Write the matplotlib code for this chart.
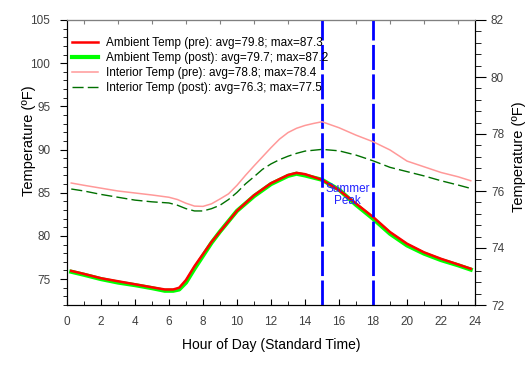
import matplotlib.pyplot as plt
from matplotlib.ticker import MultipleLocator


# ambient temperatures (left axis, deg F)
amb_hours = [0.25, 1, 2, 3, 4, 5, 5.75, 6.25, 6.6, 7, 7.5, 8, 8.5, 9, 9.5, 10,
             11, 12, 13, 13.5, 14, 15, 16, 17, 18, 19, 20, 21, 22, 23, 23.75]
amb_pre = [75.95, 75.6, 75.1, 74.75, 74.4, 74.05, 73.8, 73.8, 74.0, 74.9, 76.5,
           77.9, 79.3, 80.5, 81.7, 82.9, 84.7, 86.1, 87.05, 87.3, 87.15, 86.5,
           85.3, 83.75, 82.2, 80.45, 79.1, 78.1, 77.35, 76.7, 76.2]
amb_post = [75.85, 75.5, 75.0, 74.6, 74.3, 73.95, 73.65, 73.65, 73.8, 74.6, 76.2,
            77.7, 79.2, 80.5, 81.7, 82.9, 84.6, 86.0, 86.95, 87.2, 87.0, 86.5,
            85.35, 83.6, 82.0, 80.25, 78.9, 77.95, 77.2, 76.6, 76.1]

# interior temperatures (right axis)
int_hours = [0.25, 1, 2, 3, 4, 5, 6, 6.5, 7, 7.5, 8, 8.5, 9, 9.5, 10, 10.5, 11,
             11.5, 12, 12.5, 13, 13.5, 14, 14.5, 15, 16, 17, 18, 19, 20, 21, 22,
             23, 23.75]
int_pre = [76.28, 76.2, 76.1, 76.0, 75.93, 75.86, 75.78, 75.7, 75.57, 75.47,
           75.46, 75.55, 75.72, 75.9, 76.2, 76.55, 76.88, 77.2, 77.52, 77.82,
           78.05, 78.2, 78.3, 78.37, 78.43, 78.22, 77.96, 77.73, 77.44, 77.05,
           76.85, 76.65, 76.5, 76.36]
int_post = [76.07, 76.0, 75.88, 75.78, 75.68, 75.62, 75.58, 75.5, 75.38, 75.3,
            75.3, 75.38, 75.5, 75.7, 75.95, 76.25, 76.5, 76.76, 76.95, 77.1,
            77.22, 77.32, 77.4, 77.43, 77.46, 77.41, 77.26, 77.06, 76.83, 76.68,
            76.53, 76.36, 76.21, 76.09]

peak_start, peak_end = 15, 18

labels = [
    "Ambient Temp (pre): avg=79.8; max=87.3",
    "Ambient Temp (post): avg=79.7; max=87.2",
    "Interior Temp (pre): avg=78.8; max=78.4",
    "Interior Temp (post): avg=76.3; max=77.5",
]

plt.rcParams["font.family"] = ["Liberation Sans", "DejaVu Sans"]
tick_color = "#404040"

fig = plt.figure(figsize=(5.32, 3.73), dpi=100)
ax = fig.add_axes([67 / 532, 1 - 305 / 373, 408 / 532, 285 / 373])
ax2 = ax.twinx()

l_post, = ax.plot(amb_hours, amb_post, color="#00ff00", lw=3, zorder=3)
l_pre, = ax.plot(amb_hours, amb_pre, color="#ff0000", lw=1.8, zorder=4)
i_pre, = ax2.plot(int_hours, int_pre, color="#ff9999", lw=1.1)
i_post, = ax2.plot(int_hours, int_post, color="#007000", lw=1.0,
                   dashes=(8, 3))

for h in (peak_start, peak_end):
    ax.axvline(h, color="#0000ff", lw=2, dashes=(9, 1.6), zorder=5)
ax.text(16.5, 84.7, "Summer\nPeak", color="#2222ff", fontsize=8.5,
        ha="center", va="center", linespacing=1.0, zorder=6)

ax.set_xlim(0, 24)
ax.set_ylim(72, 105)
ax2.set_ylim(72, 82)
ax.xaxis.set_major_locator(MultipleLocator(2))
ax.xaxis.set_minor_locator(MultipleLocator(1))
ax.yaxis.set_minor_locator(MultipleLocator(1))
ax.set_yticks(range(75, 106, 5))
ax2.yaxis.set_major_locator(MultipleLocator(2))
ax2.yaxis.set_minor_locator(MultipleLocator(0.4))

ax.tick_params(axis="x", which="both", direction="in", labelsize=8.5,
               labelcolor=tick_color, top=False, pad=8)
ax.tick_params(axis="x", which="major", length=4)
ax.tick_params(axis="x", which="minor", length=3)
ax.tick_params(axis="y", which="major", length=5, labelsize=8.5,
               labelcolor=tick_color, pad=7)
ax.tick_params(axis="y", which="minor", length=3)
ax2.tick_params(axis="y", which="major", length=8, labelsize=8.5,
                labelcolor=tick_color)
ax2.tick_params(axis="y", which="minor", length=4)

top = ax.secondary_xaxis("top")
top.set_xticks(range(1, 24, 2))
top.tick_params(direction="in", length=3, color="#808080", labeltop=False)
top.spines["top"].set_color("#808080")
ax.spines["top"].set_color("#808080")
ax2.spines["top"].set_color("#808080")

ax.set_xlabel("Hour of Day (Standard Time)", fontsize=10, labelpad=7)
ax.set_ylabel("Temperature (ºF)", fontsize=10.5)
ax2.set_ylabel("Temperature (ºF)", fontsize=10.5)
ax.yaxis.set_label_coords(-0.075, 0.575)
ax2.yaxis.set_label_coords(1.09, 0.52)

ax.legend([l_pre, l_post, i_pre, i_post], labels, loc="upper left",
          bbox_to_anchor=(0.012, 0.94), frameon=False, fontsize=8.5,
          handlelength=2.2, handletextpad=0.7, labelspacing=0.26,
          borderpad=0, borderaxespad=0)

fig.savefig("out.png", dpi=100)
